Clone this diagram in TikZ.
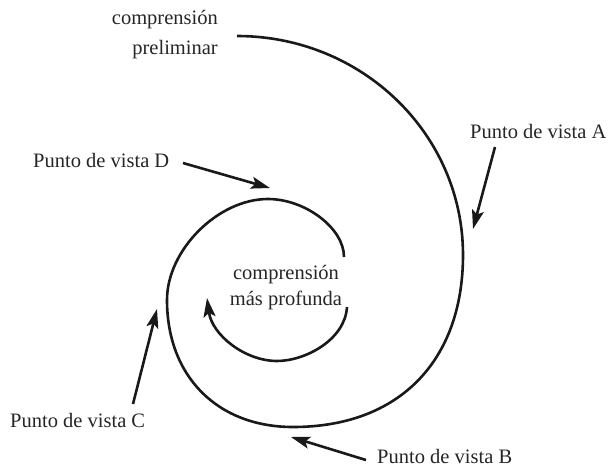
\documentclass[tikz,border=0pt]{standalone}
\usepackage{fontspec}
\setmainfont{Liberation Serif}
\usetikzlibrary{arrows.meta}
\tikzset{
  curve/.style={line width=2.6pt, color=black!90, line cap=butt},
  pointer/.style={line width=2.6pt, color=black!90, -{Stealth[length=19pt,width=12pt,inset=4pt]}},
  lbl/.style={inner sep=0pt, font=\fontsize{20.5}{26}\selectfont, text=black!85},
}
\begin{document}
\begin{tikzpicture}[x=1pt,y=-1pt]
\path[use as bounding box] (0,0) rectangle (608,466);
% labels
\node[lbl, anchor=east, align=right] (prelim) at (218,35) {comprensión\\[4pt]preliminar};
\node[lbl, anchor=center, align=center] (deep) at (286,288) {comprensión\\más profunda};
\node[lbl, anchor=base west] (labA) at (470,138) {Punto de vista A};
\node[lbl, anchor=base west] (labB) at (377,463) {Punto de vista B};
\node[lbl, anchor=base west] (labC) at (10,427) {Punto de vista C};
\node[lbl, anchor=base west] (labD) at (33,167) {Punto de vista D};
% spiral points
\coordinate (s0) at (237,36);
\coordinate (s1) at (463,255);
\coordinate (s2) at (293,427);
\coordinate (s3) at (167,300);
\coordinate (s4) at (268,199);
\coordinate (s5) at (344,257);
\draw[curve] (s0) .. controls (362,36) and (463,134) .. (s1)
  .. controls (463,360) and (400,427) .. (s2)
  .. controls (217,427) and (167,376) .. (s3)
  .. controls (167,250) and (218,199) .. (s4)
  .. controls (305,199) and (344,228) .. (s5);
% inner arc
\coordinate (i0) at (347,307);
\coordinate (i1) at (277,361);
\coordinate (i2) at (207,298);
\draw[pointer] (i0) .. controls (345,340) and (305,361) .. (i1)
  .. controls (245,361) and (212,335) .. (i2);
% pointer arrows
\coordinate (aS) at (495,147); \coordinate (aT) at (473,229);
\coordinate (bS) at (366,460); \coordinate (bT) at (291,437);
\coordinate (cS) at (133,404); \coordinate (cT) at (157,309);
\coordinate (dS) at (183,163); \coordinate (dT) at (270,188);
\draw[pointer] (aS) -- (aT);
\draw[pointer] (bS) -- (bT);
\draw[pointer] (cS) -- (cT);
\draw[pointer] (dS) -- (dT);
\end{tikzpicture}
\end{document}
